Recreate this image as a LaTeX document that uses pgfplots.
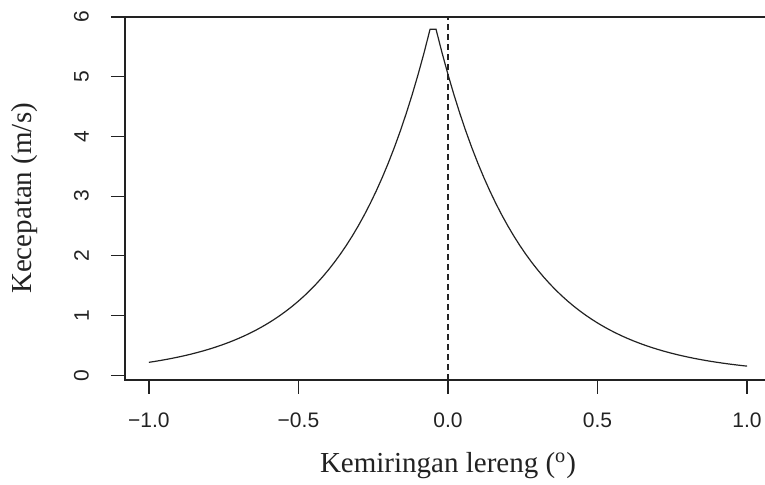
\documentclass[border=0pt]{standalone}
\usepackage{fontspec}
\setmainfont{Liberation Serif}
\newfontfamily\tickfont{Liberation Sans}
\usepackage{pgfplots}
\pgfplotsset{compat=1.18}
\definecolor{ink}{HTML}{222222}

\begin{document}
\begin{tikzpicture}[x=0.5pt,y=0.5pt]
\useasboundingbox (-125,-105) rectangle (640,380);
\begin{axis}[
  at={(0,0)}, anchor=south west,
  scale only axis, width=323pt, height=181.5pt,
  xmin=-1.08, xmax=1.08, ymin=-0.08, ymax=6,
  axis line style={ink, line width=0.6pt},
  tick style={ink, line width=0.6pt},
  tick align=outside, major tick length=7pt,
  xtick pos=bottom, ytick pos=left,
  xtick={-1,-0.5,0,0.5,1},
  xticklabels={−1.0,−0.5,0.0,0.5,1.0},
  ytick={0,1,2,3,4,5,6},
  yticklabels={0,1,2,3,4,5,6},
  xticklabel style={font=\tickfont\fontsize{10.5}{12}\selectfont, text=ink, yshift=-6pt},
  yticklabel style={font=\tickfont\fontsize{10.5}{12}\selectfont, text=ink, rotate=90, anchor=south, yshift=7.5pt},
  xlabel={Kemiringan lereng (\textsuperscript{o})},
  ylabel={Kecepatan (m/s)},
  label style={font=\fontsize{14.5}{16}\selectfont, text=ink},
  xlabel style={at={(axis description cs:0.5,0)}, anchor=center, yshift=-43pt},
  ylabel style={at={(axis description cs:0,0.5)}, anchor=center, yshift=50pt},
  clip=false,
]
\addplot[ink, line width=0.6pt, dash pattern=on 3pt off 2pt] coordinates {(0,-0.08) (0,6)};
\addplot[ink, line width=0.6pt] coordinates {
(-1.00,0.21583) (-0.98,0.23148) (-0.96,0.24827) (-0.94,0.26627) (-0.92,0.28558)
(-0.90,0.30628) (-0.88,0.32849) (-0.86,0.35231) (-0.84,0.37786) (-0.82,0.40525)
(-0.80,0.43464) (-0.78,0.46615) (-0.76,0.49995) (-0.74,0.53620) (-0.72,0.57508)
(-0.70,0.61678) (-0.68,0.66150) (-0.66,0.70947) (-0.64,0.76091) (-0.62,0.81608)
(-0.60,0.87526) (-0.58,0.93872) (-0.56,1.00678) (-0.54,1.07978) (-0.52,1.15808)
(-0.50,1.24205) (-0.48,1.33210) (-0.46,1.42870) (-0.44,1.53229) (-0.42,1.64339)
(-0.40,1.76255) (-0.38,1.89035) (-0.36,2.02741) (-0.34,2.17441) (-0.32,2.33208)
(-0.30,2.50117) (-0.28,2.68253) (-0.26,2.87703) (-0.24,3.08564) (-0.22,3.30938)
(-0.20,3.54933) (-0.18,3.80669) (-0.16,4.08271) (-0.14,4.37873) (-0.12,4.69623)
(-0.10,5.03674) (-0.08,5.40195) (-0.06,5.79363)
(-0.04,5.79363) (-0.02,5.40195) (0.00,5.03674) (0.02,4.69623) (0.04,4.37873)
(0.06,4.08271) (0.08,3.80669) (0.10,3.54933) (0.12,3.30938) (0.14,3.08564)
(0.16,2.87703) (0.18,2.68253) (0.20,2.50117) (0.22,2.33208) (0.24,2.17441)
(0.26,2.02741) (0.28,1.89035) (0.30,1.76255) (0.32,1.64339) (0.34,1.53229)
(0.36,1.42870) (0.38,1.33210) (0.40,1.24205) (0.42,1.15808) (0.44,1.07978)
(0.46,1.00678) (0.48,0.93872) (0.50,0.87526) (0.52,0.81608) (0.54,0.76091)
(0.56,0.70947) (0.58,0.66150) (0.60,0.61678) (0.62,0.57508) (0.64,0.53620)
(0.66,0.49995) (0.68,0.46615) (0.70,0.43464) (0.72,0.40525) (0.74,0.37786)
(0.76,0.35231) (0.78,0.32849) (0.80,0.30628) (0.82,0.28558) (0.84,0.26627)
(0.86,0.24827) (0.88,0.23148) (0.90,0.21583) (0.92,0.20124) (0.94,0.18764)
(0.96,0.17495) (0.98,0.16312) (1.00,0.15209)
};
\end{axis}
\end{tikzpicture}
\end{document}
